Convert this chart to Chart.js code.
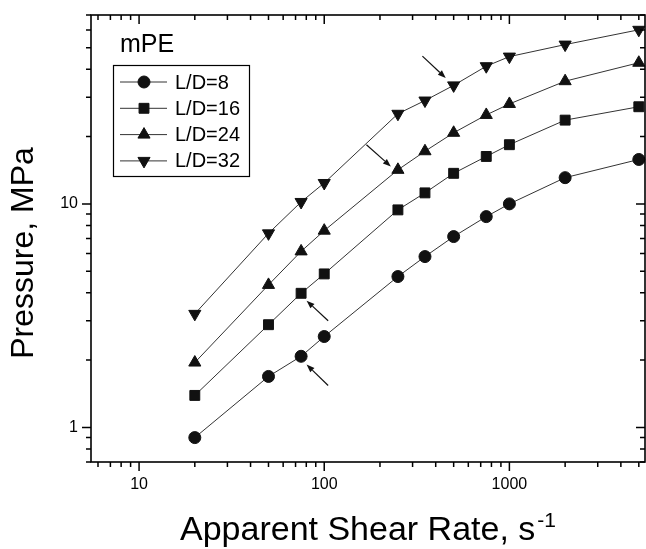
<!DOCTYPE html>
<html><head><meta charset="utf-8">
<script src="https://cdn.jsdelivr.net/npm/chart.js@4.4.1/dist/chart.umd.min.js"></script>
<style>html,body{margin:0;padding:0;background:#fff;}#wrap{width:646px;height:549px;}</style>
</head><body><div id="wrap"><canvas id="c" width="646" height="549"></canvas></div>
<script>
// ---- data ----
const shearRates = [20, 50, 75, 100, 250, 350, 500, 750, 1000, 2000, 5000];
const pLD8  = [0.90, 1.69, 2.08, 2.55, 4.73, 5.81, 7.14, 8.77, 10.0, 13.1, 15.8];
const pLD16 = [1.39, 2.88, 3.98, 4.86, 9.4, 11.2, 13.7, 16.3, 18.4, 23.7, 27.2];
const pLD24 = [1.95, 4.34, 6.13, 7.59, 14.2, 17.2, 20.8, 25.0, 28.0, 35.4, 42.8];
const pLD32 = [3.22, 7.38, 10.2, 12.4, 25.3, 29.0, 33.9, 41.3, 45.6, 51.6, 60.1];
const seriesLabels = ['L/D=8', 'L/D=16', 'L/D=24', 'L/D=32'];
const xTickLabels = [10, 100, 1000];
const yTickLabels = [1, 10];
const xTitle = 'Apparent Shear Rate, s';
const xTitleSup = '-1';
const yTitle = 'Pressure, MPa';
const noteText = 'mPE';
// arrows: [tailX, tailY, tipX, tipY] in data units
const arrows = [
  [339, 45.8, 453, 36.6],
  [169, 18.4, 229, 14.7],
  [105, 3.00, 80.3, 3.69],
  [105, 1.54, 80.3, 1.91]
];

const FONT = "'Liberation Sans', Arial, Helvetica, sans-serif";

function minorList(min, max) {
  const out = [];
  for (let d = Math.floor(Math.log10(min)); d <= Math.ceil(Math.log10(max)); d++) {
    for (let m = 1; m <= 9; m++) {
      const v = m * Math.pow(10, d);
      if (v >= min * 0.999 && v <= max * 1.001) out.push({v: v, major: m === 1});
    }
  }
  return out;
}

const XMIN = 5.5, XMAX = 5400, YMIN = 0.7, YMAX = 70;

const styles = [
  {pointStyle: 'circle', radius: 6, rotation: 0},
  {pointStyle: 'rect', radius: 7, rotation: 0},
  {pointStyle: 'triangle', radius: 7, rotation: 0},
  {pointStyle: 'triangle', radius: 7, rotation: 180}
];
const seriesValues = [pLD8, pLD16, pLD24, pLD32];

const datasets = seriesValues.map((vals, i) => ({
  label: seriesLabels[i],
  data: shearRates.map((x, j) => ({x: x, y: vals[j]})),
  borderColor: '#333',
  borderWidth: 1,
  backgroundColor: '#111',
  pointBackgroundColor: '#111',
  pointBorderColor: '#111',
  pointBorderWidth: 1,
  pointStyle: styles[i].pointStyle,
  pointRadius: styles[i].radius,
  pointRotation: styles[i].rotation,
  tension: 0,
  fill: false,
  clip: false
}));

const framePlugin = {
  id: 'frame',
  afterDraw(chart) {
    const ctx = chart.ctx;
    const a = chart.chartArea;
    const xs = chart.scales.x, ys = chart.scales.y;
    ctx.save();
    ctx.strokeStyle = '#000';
    ctx.lineWidth = 1.6;
    ctx.strokeRect(a.left, a.top, a.right - a.left, a.bottom - a.top);
    ctx.lineWidth = 1.5;
    ctx.beginPath();
    minorList(XMIN, XMAX).forEach(t => {
      const px = xs.getPixelForValue(t.v);
      const L = t.major ? 9 : 5;
      ctx.moveTo(px, a.bottom); ctx.lineTo(px, a.bottom + L);
      ctx.moveTo(px, a.top); ctx.lineTo(px, a.top + L);
    });
    minorList(YMIN, YMAX).forEach(t => {
      const py = ys.getPixelForValue(t.v);
      const L = t.major ? 9 : 5;
      ctx.moveTo(a.left, py); ctx.lineTo(a.left - L, py);
      ctx.moveTo(a.right, py); ctx.lineTo(a.right - L, py);
    });
    ctx.stroke();

    // arrows
    ctx.strokeStyle = '#111'; ctx.fillStyle = '#111'; ctx.lineWidth = 1.2;
    arrows.forEach(ar => {
      const x1 = xs.getPixelForValue(ar[0]), y1 = ys.getPixelForValue(ar[1]);
      const x2 = xs.getPixelForValue(ar[2]), y2 = ys.getPixelForValue(ar[3]);
      const ang = Math.atan2(y2 - y1, x2 - x1);
      const hl = 8, hw = 3;
      const bx = x2 - hl * Math.cos(ang), by = y2 - hl * Math.sin(ang);
      ctx.beginPath(); ctx.moveTo(x1, y1); ctx.lineTo(bx, by); ctx.stroke();
      ctx.beginPath();
      ctx.moveTo(x2, y2);
      ctx.lineTo(bx + hw * Math.sin(ang), by - hw * Math.cos(ang));
      ctx.lineTo(bx - hw * Math.sin(ang), by + hw * Math.cos(ang));
      ctx.closePath(); ctx.fill();
    });

    // note text
    ctx.fillStyle = '#000';
    ctx.textBaseline = 'alphabetic';
    ctx.textAlign = 'left';
    ctx.font = '25px ' + FONT;
    ctx.fillText(noteText, 120, 52);

    // legend
    const lx = 113.5, ly = 65.5, lw = 136, lh = 111;
    ctx.lineWidth = 1.2; ctx.strokeStyle = '#000';
    ctx.strokeRect(lx, ly, lw, lh);
    ctx.font = '20px ' + FONT;
    ctx.textBaseline = 'middle';
    chart.data.datasets.forEach((ds, i) => {
      const yy = 82 + i * 26.3;
      ctx.strokeStyle = '#333'; ctx.lineWidth = 1;
      ctx.beginPath(); ctx.moveTo(120, yy); ctx.lineTo(167, yy); ctx.stroke();
      ctx.fillStyle = '#111'; ctx.strokeStyle = '#111';
      Chart.helpers.drawPoint(ctx, {pointStyle: ds.pointStyle, radius: ds.pointRadius, rotation: ds.pointRotation, borderWidth: 1}, 144, yy);
      ctx.fillStyle = '#000';
      ctx.fillText(ds.label, 175, yy + 1);
    });

    // axis titles
    ctx.fillStyle = '#000';
    ctx.textBaseline = 'alphabetic';
    ctx.font = '34px ' + FONT;
    const w1 = ctx.measureText(xTitle).width;
    ctx.font = '21px ' + FONT;
    const w2 = ctx.measureText(xTitleSup).width;
    const cx = (a.left + a.right) / 2;
    const sx = cx - (w1 + w2 + 2) / 2;
    ctx.font = '34px ' + FONT;
    ctx.textAlign = 'left';
    ctx.fillText(xTitle, sx, 540);
    ctx.font = '21px ' + FONT;
    ctx.fillText(xTitleSup, sx + w1 + 2, 527);

    ctx.save();
    ctx.translate(33, 253);
    ctx.rotate(-Math.PI / 2);
    ctx.font = '32px ' + FONT;
    ctx.textAlign = 'center';
    ctx.fillText(yTitle, 0, 0);
    ctx.restore();
    ctx.restore();
  }
};

function zeroPad(s) { s.paddingTop = 0; s.paddingBottom = 0; s.paddingLeft = 0; s.paddingRight = 0; }

new Chart(document.getElementById('c'), {
  type: 'line',
  data: {datasets: datasets},
  options: {
    responsive: false,
    animation: false,
    devicePixelRatio: 1,
    layout: {autoPadding: false, padding: {top: 15, right: 1, left: 0, bottom: 0}},
    plugins: {legend: {display: false}, tooltip: {enabled: false}, title: {display: false}},
    scales: {
      x: {
        type: 'logarithmic', min: XMIN, max: XMAX,
        grid: {display: false, drawTicks: false},
        border: {display: false},
        ticks: {color: '#000', font: {family: FONT, size: 16}, padding: 13, autoSkip: false, maxRotation: 0,
          callback: (v) => String(v)},
        afterBuildTicks: (s) => { s.ticks = xTickLabels.map(v => ({value: v})); },
        afterFit: (s) => { s.height = 87; zeroPad(s); }
      },
      y: {
        type: 'logarithmic', min: YMIN, max: YMAX,
        grid: {display: false, drawTicks: false},
        border: {display: false},
        ticks: {color: '#000', font: {family: FONT, size: 16}, padding: 13, autoSkip: false,
          callback: (v) => String(v)},
        afterBuildTicks: (s) => { s.ticks = yTickLabels.map(v => ({value: v})); },
        afterFit: (s) => { s.width = 91; zeroPad(s); }
      }
    }
  },
  plugins: [framePlugin]
});
</script>
</body></html>
